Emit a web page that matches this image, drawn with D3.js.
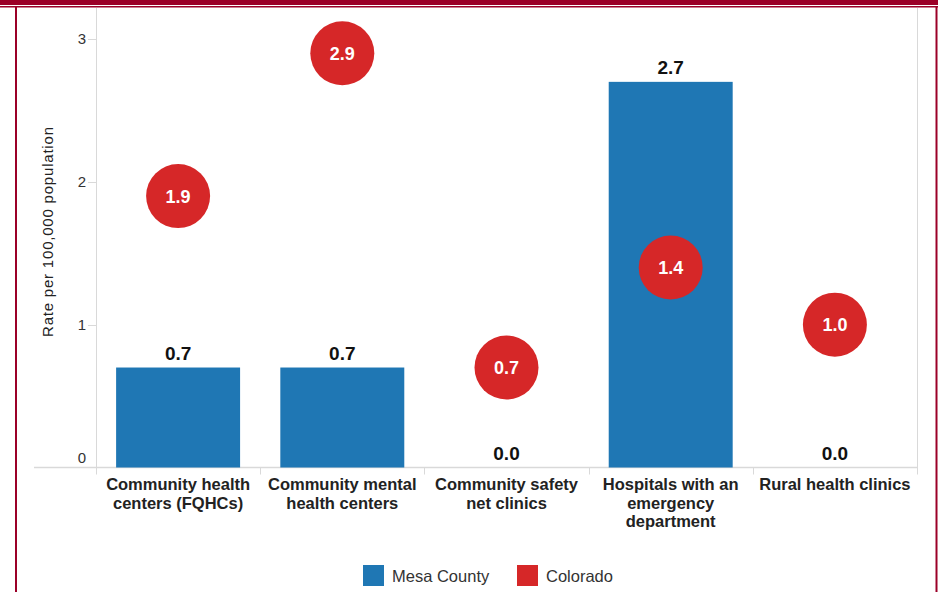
<!DOCTYPE html>
<html>
<head>
<meta charset="utf-8">
<script src="https://cdn.jsdelivr.net/npm/d3@7"></script>
<style>
  html, body { margin: 0; padding: 0; background: #fff; }
  svg { display: block; font-family: "Liberation Sans", Arial, sans-serif; }
</style>
</head>
<body>
<svg id="chart" width="938" height="592"></svg>
<script>
// Facility rates per 100,000 population
const categories = [
  ["Community health", "centers (FQHCs)"],
  ["Community mental", "health centers"],
  ["Community safety", "net clinics"],
  ["Hospitals with an", "emergency", "department"],
  ["Rural health clinics"]
];
const mesaCounty = [0.7, 0.7, 0.0, 2.7, 0.0];
const colorado = [1.9, 2.9, 0.7, 1.4, 1.0];
const yTicks = [0, 1, 2, 3];
const seriesNames = ["Mesa County", "Colorado"];
const seriesColors = ["#1f77b4", "#d62728"];

const svg = d3.select("#chart");
const W = 938, H = 592;
const frame = "#9b0028";

// Frame
svg.append("rect").attr("x", 0).attr("y", 0).attr("width", W).attr("height", 5).attr("fill", frame);
svg.append("rect").attr("x", 0).attr("y", 6).attr("width", W).attr("height", 1.5).attr("fill", frame);
svg.append("rect").attr("x", 15).attr("y", 6).attr("width", 2).attr("height", H).attr("fill", frame);
svg.append("rect").attr("x", 935.5).attr("y", 6).attr("width", 2).attr("height", H).attr("fill", frame);

const plot = { left: 96, right: 917, top: 8, bottom: 467.5 };

const x = d3.scaleBand()
  .domain(d3.range(categories.length))
  .range([plot.left, plot.right])
  .paddingInner(0.245)
  .paddingOuter(0.1225);

const y = d3.scaleLinear().domain([0, 3]).range([plot.bottom, 39]);

const grid = "#d9d9d9";

// Plot frame lines
svg.append("line").attr("x1", plot.left + 0.5).attr("x2", plot.left + 0.5)
  .attr("y1", plot.top).attr("y2", plot.bottom).attr("stroke", grid);
svg.append("line").attr("x1", plot.right + 0.5).attr("x2", plot.right + 0.5)
  .attr("y1", plot.top).attr("y2", plot.bottom).attr("stroke", grid);
svg.append("line").attr("x1", 34).attr("x2", plot.right + 1)
  .attr("y1", plot.bottom).attr("y2", plot.bottom).attr("stroke", grid).attr("stroke-width", 1.5);

// Y axis ticks
const yAxis = svg.append("g");
yAxis.selectAll("line.tick").data(yTicks.filter(d => d > 0)).join("line")
  .attr("x1", 88).attr("x2", plot.left)
  .attr("y1", d => Math.round(y(d)) + 0.5).attr("y2", d => Math.round(y(d)) + 0.5)
  .attr("stroke", grid);
yAxis.selectAll("text").data(yTicks).join("text")
  .attr("x", 86)
  .attr("y", d => d === 0 ? y(d) - 10 : y(d))
  .attr("dy", "0.35em")
  .attr("text-anchor", "end")
  .attr("font-size", 15)
  .attr("fill", "#333")
  .text(d => d);

// Y axis title
svg.append("text")
  .attr("transform", `translate(53,232) rotate(-90)`)
  .attr("text-anchor", "middle")
  .attr("font-size", 15)
  .attr("textLength", 210)
  .attr("lengthAdjust", "spacing")
  .attr("fill", "#222")
  .text("Rate per 100,000 population");

// Category separator ticks
svg.selectAll("line.sep").data(d3.range(categories.length + 1)).join("line")
  .attr("x1", i => Math.round(plot.left + i * (plot.right - plot.left) / categories.length) + 0.5)
  .attr("x2", i => Math.round(plot.left + i * (plot.right - plot.left) / categories.length) + 0.5)
  .attr("y1", plot.bottom).attr("y2", plot.bottom + 7)
  .attr("stroke", grid);

// Category labels
const catG = svg.append("g");
categories.forEach((lines, i) => {
  const cx = x(i) + x.bandwidth() / 2;
  const t = catG.append("text")
    .attr("x", cx)
    .attr("y", 490)
    .attr("text-anchor", "middle")
    .attr("font-size", 16.5)
    .attr("font-weight", "bold")
    .attr("fill", "#222");
  lines.forEach((ln, j) => {
    t.append("tspan").attr("x", cx).attr("dy", j === 0 ? 0 : 18.5).text(ln);
  });
});

// Mesa County bars
svg.selectAll("rect.bar").data(mesaCounty).join("rect")
  .attr("class", "bar")
  .attr("x", (d, i) => x(i))
  .attr("y", d => y(d))
  .attr("width", x.bandwidth())
  .attr("height", d => y(0) - y(d))
  .attr("fill", seriesColors[0]);

svg.selectAll("text.barlab").data(mesaCounty).join("text")
  .attr("class", "barlab")
  .attr("x", (d, i) => x(i) + x.bandwidth() / 2)
  .attr("y", d => y(d) - 8)
  .attr("text-anchor", "middle")
  .attr("font-size", 19)
  .attr("font-weight", "bold")
  .attr("fill", "#111")
  .text(d => d.toFixed(1));

// Colorado markers
svg.selectAll("circle.co").data(colorado).join("circle")
  .attr("class", "co")
  .attr("cx", (d, i) => x(i) + x.bandwidth() / 2)
  .attr("cy", d => y(d))
  .attr("r", 32)
  .attr("fill", seriesColors[1]);

svg.selectAll("text.colab").data(colorado).join("text")
  .attr("class", "colab")
  .attr("x", (d, i) => x(i) + x.bandwidth() / 2)
  .attr("y", d => y(d))
  .attr("dy", "0.36em")
  .attr("text-anchor", "middle")
  .attr("font-size", 18)
  .attr("font-weight", "bold")
  .attr("fill", "#fff")
  .text(d => d.toFixed(1));

// Legend
const legendX = [363, 517];
seriesNames.forEach((name, i) => {
  svg.append("rect")
    .attr("x", legendX[i]).attr("y", 565)
    .attr("width", 21).attr("height", 21)
    .attr("fill", seriesColors[i]);
  svg.append("text")
    .attr("x", legendX[i] + 29).attr("y", 576)
    .attr("dy", "0.35em")
    .attr("font-size", 16.5)
    .attr("fill", "#333")
    .text(name);
});
</script>
</body>
</html>
